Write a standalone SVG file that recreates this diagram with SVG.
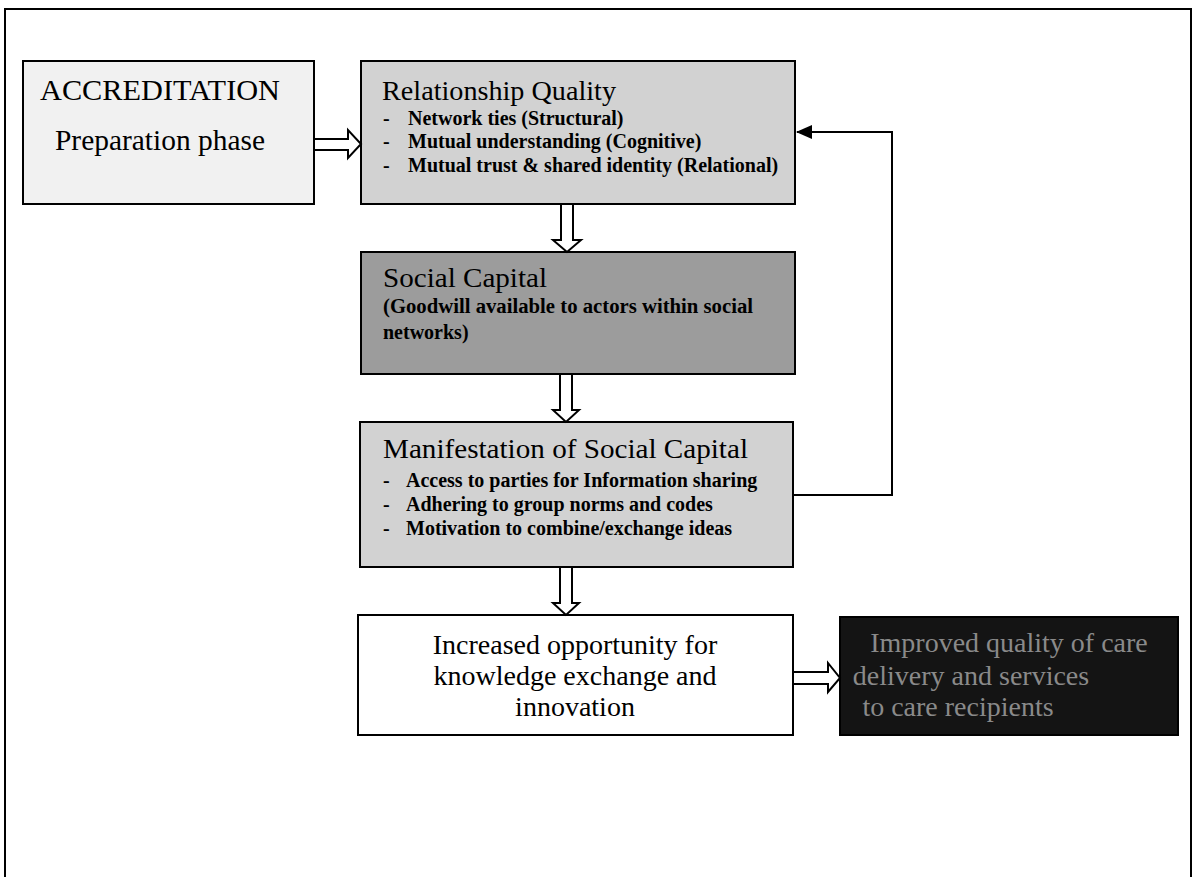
<svg xmlns="http://www.w3.org/2000/svg" width="1194" height="877" viewBox="0 0 1194 877">
<style>
.box{stroke:#000;stroke-width:2}
.t{font-family:"Liberation Serif","Times New Roman",serif;fill:#000}
.title{font-size:28px}
.item{font-size:20px;font-weight:bold}
.big{font-size:28px}
.light{fill:#8a8a8a}
.arrow{fill:#fff;stroke:#000;stroke-width:2;stroke-linejoin:miter}
.line{fill:none;stroke:#000;stroke-width:2}
</style>
<defs>
<marker id="tri" markerWidth="16" markerHeight="14" refX="15" refY="7" orient="auto" markerUnits="userSpaceOnUse" viewBox="0 0 16 14">
<path d="M0,0 L16,7 L0,14 Z" fill="#000"/>
</marker>
</defs>
<rect x="5" y="9" width="1186" height="900" fill="#fff" stroke="#000" stroke-width="2"/>

<g id="accreditation">
<rect class="box" x="23" y="61" width="291" height="143" fill="#f1f1f1"/>
<text class="t title" x="40" y="100" textLength="240" lengthAdjust="spacingAndGlyphs" style="font-size:29px">ACCREDITATION</text>
<text class="t title" x="55" y="150" textLength="210" lengthAdjust="spacingAndGlyphs" style="font-size:29px">Preparation phase</text>
</g>

<g id="relationship-quality">
<rect class="box" x="361" y="61" width="434" height="143" fill="#d2d2d2"/>
<text class="t title" x="382" y="100" textLength="234" lengthAdjust="spacingAndGlyphs">Relationship Quality</text>
<text class="t item" x="383" y="125">-</text>
<text class="t item" x="408" y="125">Network ties (Structural)</text>
<text class="t item" x="383" y="148">-</text>
<text class="t item" x="408" y="148">Mutual understanding (Cognitive)</text>
<text class="t item" x="383" y="172">-</text>
<text class="t item" x="408" y="172">Mutual trust &amp; shared identity (Relational)</text>
</g>

<g id="social-capital">
<rect class="box" x="361" y="252" width="434" height="122" fill="#9c9c9c"/>
<text class="t title" x="383" y="287" textLength="164" lengthAdjust="spacingAndGlyphs">Social Capital</text>
<text class="t item" x="383" y="313" textLength="370" lengthAdjust="spacingAndGlyphs">(Goodwill available to actors within social</text>
<text class="t item" x="383" y="339">networks)</text>
</g>

<g id="manifestation">
<rect class="box" x="360" y="422" width="433" height="145" fill="#d2d2d2"/>
<text class="t title" x="383" y="458" textLength="365" lengthAdjust="spacingAndGlyphs">Manifestation of Social Capital</text>
<text class="t item" x="383" y="487">-</text>
<text class="t item" x="406" y="487">Access to parties for Information sharing</text>
<text class="t item" x="383" y="511">-</text>
<text class="t item" x="406" y="511">Adhering to group norms and codes</text>
<text class="t item" x="383" y="535">-</text>
<text class="t item" x="406" y="535">Motivation to combine/exchange ideas</text>
</g>

<g id="knowledge-exchange">
<rect class="box" x="358" y="615" width="435" height="120" fill="#fff"/>
<text class="t big" x="575" y="654" text-anchor="middle">Increased opportunity for</text>
<text class="t big" x="575" y="685" text-anchor="middle">knowledge exchange and</text>
<text class="t big" x="575" y="716" text-anchor="middle">innovation</text>
</g>

<g id="improved-quality">
<rect class="box" x="840" y="617" width="338" height="118" fill="#141414"/>
<text class="t big light" x="1009" y="652" text-anchor="middle">Improved quality of care</text>
<text class="t big light" x="971" y="685" text-anchor="middle">delivery and services</text>
<text class="t big light" x="958" y="716" text-anchor="middle">to care recipients</text>
</g>

<g id="connectors">
<path class="arrow" d="M314,139 L348,139 L348,130 L361,144 L348,158 L348,150 L314,150 Z"/>
<path class="arrow" d="M561,204 L561,240 L553,240 L567,252 L581,240 L573,240 L573,204 Z"/>
<path class="arrow" d="M560,374 L560,410 L553,410 L566,422 L579,410 L572,410 L572,374 Z"/>
<path class="arrow" d="M560,567 L560,603 L553,603 L566,615 L579,603 L572,603 L572,567 Z"/>
<path class="arrow" d="M793,672 L828,672 L828,663 L840,678 L828,692 L828,684 L793,684 Z"/>
<path class="line" d="M793,495 L892,495 L892,132 L797,132" marker-end="url(#tri)"/>
</g>
</svg>
